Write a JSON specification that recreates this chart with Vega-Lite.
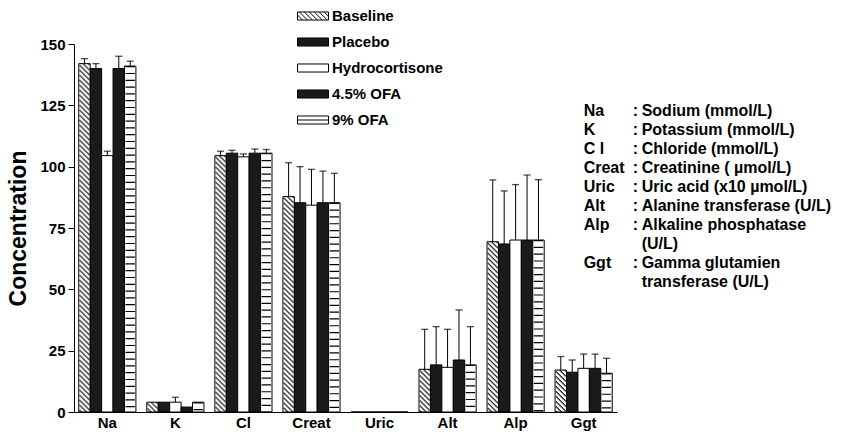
{
  "$schema": "https://vega.github.io/schema/vega-lite/v6.json",
  "width": 543,
  "height": 368,
  "autosize": {"type": "none"},
  "padding": {"left": 74, "top": 44, "right": 224, "bottom": 23},
  "background": "white",
  "config": {"view": {"stroke": null}, "font": "Liberation Sans"},
  "datasets": {
    "bars": [
      {"category": "Na", "series": "Baseline", "value": 142, "upper": 144},
      {"category": "Na", "series": "Placebo", "value": 140, "upper": 142},
      {"category": "Na", "series": "Hydrocortisone", "value": 104.5, "upper": 106.3},
      {"category": "Na", "series": "4.5% OFA", "value": 140, "upper": 145},
      {"category": "Na", "series": "9% OFA", "value": 141, "upper": 143},
      {"category": "K", "series": "Baseline", "value": 4, "upper": 4},
      {"category": "K", "series": "Placebo", "value": 4, "upper": 4},
      {"category": "K", "series": "Hydrocortisone", "value": 4, "upper": 6},
      {"category": "K", "series": "4.5% OFA", "value": 2, "upper": 2},
      {"category": "K", "series": "9% OFA", "value": 4, "upper": 4},
      {"category": "Cl", "series": "Baseline", "value": 104.5, "upper": 106.3},
      {"category": "Cl", "series": "Placebo", "value": 105.5, "upper": 106.7},
      {"category": "Cl", "series": "Hydrocortisone", "value": 104, "upper": 105.2},
      {"category": "Cl", "series": "4.5% OFA", "value": 105.5, "upper": 107.2},
      {"category": "Cl", "series": "9% OFA", "value": 105.5, "upper": 107},
      {"category": "Creat", "series": "Baseline", "value": 87.8, "upper": 101.6},
      {"category": "Creat", "series": "Placebo", "value": 85.3, "upper": 100},
      {"category": "Creat", "series": "Hydrocortisone", "value": 84.3, "upper": 98.9},
      {"category": "Creat", "series": "4.5% OFA", "value": 85.3, "upper": 98.2},
      {"category": "Creat", "series": "9% OFA", "value": 85.3, "upper": 97.3},
      {"category": "Uric", "series": "Baseline", "value": 0, "upper": 0},
      {"category": "Uric", "series": "Placebo", "value": 0, "upper": 0},
      {"category": "Uric", "series": "Hydrocortisone", "value": 0, "upper": 0},
      {"category": "Uric", "series": "4.5% OFA", "value": 0, "upper": 0},
      {"category": "Uric", "series": "9% OFA", "value": 0, "upper": 0},
      {"category": "Alt", "series": "Baseline", "value": 17.4, "upper": 33.7},
      {"category": "Alt", "series": "Placebo", "value": 19.2, "upper": 34.8},
      {"category": "Alt", "series": "Hydrocortisone", "value": 18.2, "upper": 33.7},
      {"category": "Alt", "series": "4.5% OFA", "value": 21.2, "upper": 41.6},
      {"category": "Alt", "series": "9% OFA", "value": 19.2, "upper": 34.8},
      {"category": "Alp", "series": "Baseline", "value": 69.4, "upper": 94.6},
      {"category": "Alp", "series": "Placebo", "value": 68.5, "upper": 90.1},
      {"category": "Alp", "series": "Hydrocortisone", "value": 70.1, "upper": 92.7},
      {"category": "Alp", "series": "4.5% OFA", "value": 70.1, "upper": 96.6},
      {"category": "Alp", "series": "9% OFA", "value": 70.1, "upper": 94.7},
      {"category": "Ggt", "series": "Baseline", "value": 17.1, "upper": 22.6},
      {"category": "Ggt", "series": "Placebo", "value": 16.2, "upper": 21.2},
      {"category": "Ggt", "series": "Hydrocortisone", "value": 17.8, "upper": 23.6},
      {"category": "Ggt", "series": "4.5% OFA", "value": 17.8, "upper": 23.6},
      {"category": "Ggt", "series": "9% OFA", "value": 15.8, "upper": 21.9}
    ],
    "notes": [
      {"abbr": "Na", "desc": "Sodium (mmol/L)"},
      {"abbr": "K", "desc": "Potassium (mmol/L)"},
      {"abbr": "C l", "desc": "Chloride (mmol/L)"},
      {"abbr": "Creat", "desc": "Creatinine ( µmol/L)"},
      {"abbr": "Uric", "desc": "Uric acid (x10 µmol/L)"},
      {"abbr": "Alt", "desc": "Alanine transferase (U/L)"},
      {"abbr": "Alp", "desc": "Alkaline phosphatase"},
      {"abbr": "", "desc": "(U/L)"},
      {"abbr": "Ggt", "desc": "Gamma glutamien"},
      {"abbr": "", "desc": "transferase (U/L)"}
    ]
  },
  "layer": [
    {
      "data": {"name": "bars"},
      "encoding": {
        "x": {
          "field": "category", "type": "nominal", "sort": null, "title": null,
          "scale": {"domain": ["Na", "K", "Cl", "Creat", "Uric", "Alt", "Alp", "Ggt"], "paddingInner": 0.16, "paddingOuter": 0.07},
          "axis": {"labelAngle": 0, "ticks": false, "labelFontSize": 15, "labelFontWeight": "bold", "labelColor": "black", "domainColor": "black", "labelPadding": 3, "labelFont": "Liberation Sans"}
        },
        "y": {
          "field": "value", "type": "quantitative", "stack": null, "title": "Concentration",
          "scale": {"domain": [0, 150], "nice": false},
          "axis": {"values": [0, 25, 50, 75, 100, 125, 150], "grid": false, "labelFontSize": 15, "labelFontWeight": "bold", "labelColor": "black", "labelFont": "Liberation Sans", "tickColor": "black", "domainColor": "black", "tickSize": 6, "labelPadding": 3, "titleFontSize": 23, "titleFontWeight": "bold", "titleColor": "black", "titleFont": "Liberation Sans", "titlePadding": 9}
        }
      },
      "layer": [
        {
          "mark": {"type": "bar", "stroke": "black", "strokeWidth": 1},
          "encoding": {
            "xOffset": {
              "field": "series", "type": "nominal", "sort": null,
              "scale": {"domain": ["Baseline", "Placebo", "Hydrocortisone", "4.5% OFA", "9% OFA"], "paddingInner": 0, "paddingOuter": 0}
            },
            "fill": {
              "field": "series", "type": "nominal", "sort": null,
              "scale": {
                "domain": ["Baseline", "Placebo", "Hydrocortisone", "4.5% OFA", "9% OFA"],
                "range": ["#ffffff", "#1a1a1a", "#ffffff", "#1a1a1a", "#ffffff"]
              },
              "legend": {
                "orient": "none", "legendX": 223, "legendY": -44, "title": null, "padding": 0,
                "symbolSize": 961,
                "symbolStrokeColor": "black", "symbolStrokeWidth": 1, "symbolOpacity": 1,
                "labelFontSize": 15, "labelFontWeight": "bold", "labelColor": "black", "labelFont": "Liberation Sans",
                "rowPadding": 2, "labelOffset": 3,
                "encode": {"symbols": {"update": {"stroke": {"value": "black"}, "strokeWidth": {"value": 1}, "opacity": {"value": 1}}}}
              }
            }
          }
        },
        {
          "mark": {"type": "point", "opacity": 0, "filled": true, "size": 961},
          "encoding": {
            "xOffset": {"field": "series", "type": "nominal", "sort": null},
            "shape": {
              "field": "series", "type": "nominal", "sort": null,
              "scale": {
                "domain": ["Baseline", "Placebo", "Hydrocortisone", "4.5% OFA", "9% OFA"],
                "range": [
                  "M-1,-0.26H1V0.26H-1ZM-1,-0.06L-0.68,0.26M-0.88,-0.26L-0.36,0.26M-0.56,-0.26L-0.04,0.26M-0.24,-0.26L0.28,0.26M0.08,-0.26L0.6,0.26M0.4,-0.26L0.92,0.26M0.72,-0.26L1,0.02",
                  "M-1,-0.26H1V0.26H-1Z",
                  "M-1,-0.26H1V0.26H-1Z",
                  "M-1,-0.26H1V0.26H-1Z",
                  "M-1,-0.26H1V0.26H-1ZM-1,0H1"
                ]
              },
              "legend": {
                "orient": "none", "legendX": 223, "legendY": -44, "title": null, "padding": 0,
                "symbolSize": 961,
                "symbolStrokeColor": "black", "symbolStrokeWidth": 1, "symbolOpacity": 1,
                "labelFontSize": 15, "labelFontWeight": "bold", "labelColor": "black", "labelFont": "Liberation Sans",
                "rowPadding": 2, "labelOffset": 3
              }
            }
          }
        },
        {"transform": [{"filter": "datum.series === 'Baseline' && datum.value > 0"}], "mark": {"type": "rule", "color": "black", "strokeWidth": 1.1, "strokeDash": [1.5, 3.5], "strokeDashOffset": 9}, "encoding": {"x": {"field": "category", "type": "nominal", "sort": null, "bandPosition": 0.021}, "y2": {"datum": 0}}},
        {"transform": [{"filter": "datum.series === 'Baseline' && datum.value > 0"}], "mark": {"type": "rule", "color": "black", "strokeWidth": 1.1, "strokeDash": [1.5, 3.5], "strokeDashOffset": 8}, "encoding": {"x": {"field": "category", "type": "nominal", "sort": null, "bandPosition": 0.0385}, "y2": {"datum": 0}}},
        {"transform": [{"filter": "datum.series === 'Baseline' && datum.value > 0"}], "mark": {"type": "rule", "color": "black", "strokeWidth": 1.1, "strokeDash": [1.5, 3.5], "strokeDashOffset": 7}, "encoding": {"x": {"field": "category", "type": "nominal", "sort": null, "bandPosition": 0.056}, "y2": {"datum": 0}}},
        {"transform": [{"filter": "datum.series === 'Baseline' && datum.value > 0"}], "mark": {"type": "rule", "color": "black", "strokeWidth": 1.1, "strokeDash": [1.5, 3.5], "strokeDashOffset": 6}, "encoding": {"x": {"field": "category", "type": "nominal", "sort": null, "bandPosition": 0.0735}, "y2": {"datum": 0}}},
        {"transform": [{"filter": "datum.series === 'Baseline' && datum.value > 0"}], "mark": {"type": "rule", "color": "black", "strokeWidth": 1.1, "strokeDash": [1.5, 3.5], "strokeDashOffset": 5}, "encoding": {"x": {"field": "category", "type": "nominal", "sort": null, "bandPosition": 0.091}, "y2": {"datum": 0}}},
        {"transform": [{"filter": "datum.series === 'Baseline' && datum.value > 0"}], "mark": {"type": "rule", "color": "black", "strokeWidth": 1.1, "strokeDash": [1.5, 3.5], "strokeDashOffset": 4}, "encoding": {"x": {"field": "category", "type": "nominal", "sort": null, "bandPosition": 0.1085}, "y2": {"datum": 0}}},
        {"transform": [{"filter": "datum.series === 'Baseline' && datum.value > 0"}], "mark": {"type": "rule", "color": "black", "strokeWidth": 1.1, "strokeDash": [1.5, 3.5], "strokeDashOffset": 3}, "encoding": {"x": {"field": "category", "type": "nominal", "sort": null, "bandPosition": 0.126}, "y2": {"datum": 0}}},
        {"transform": [{"filter": "datum.series === 'Baseline' && datum.value > 0"}], "mark": {"type": "rule", "color": "black", "strokeWidth": 1.1, "strokeDash": [1.5, 3.5], "strokeDashOffset": 2}, "encoding": {"x": {"field": "category", "type": "nominal", "sort": null, "bandPosition": 0.1435}, "y2": {"datum": 0}}},
        {"transform": [{"filter": "datum.series === 'Baseline' && datum.value > 0"}], "mark": {"type": "rule", "color": "black", "strokeWidth": 1.1, "strokeDash": [1.5, 3.5], "strokeDashOffset": 1}, "encoding": {"x": {"field": "category", "type": "nominal", "sort": null, "bandPosition": 0.161}, "y2": {"datum": 0}}},
        {"transform": [{"filter": "datum.series === 'Baseline' && datum.value > 0"}], "mark": {"type": "rule", "color": "black", "strokeWidth": 1.1, "strokeDash": [1.5, 3.5], "strokeDashOffset": 0}, "encoding": {"x": {"field": "category", "type": "nominal", "sort": null, "bandPosition": 0.1785}, "y2": {"datum": 0}}},
        {
          "transform": [{"filter": "datum.series === '9% OFA' && datum.value > 0"}],
          "mark": {"type": "rule", "color": "black", "strokeWidth": 9.4, "strokeDash": [1.2, 5.6]},
          "encoding": {"x": {"field": "category", "type": "nominal", "sort": null, "bandPosition": 0.9}, "y2": {"datum": 0}}
        },
        {
          "transform": [{"filter": "datum.upper > datum.value"}],
          "mark": {"type": "rule", "color": "black", "strokeWidth": 1},
          "encoding": {
            "xOffset": {"field": "series", "type": "nominal", "sort": null},
            "y2": {"field": "upper"}
          }
        },
        {
          "transform": [{"filter": "datum.upper > datum.value"}],
          "mark": {"type": "tick", "color": "black", "thickness": 1.3, "size": 7, "orient": "horizontal"},
          "encoding": {
            "xOffset": {"field": "series", "type": "nominal", "sort": null},
            "y": {"field": "upper", "type": "quantitative", "stack": null, "title": "Concentration"}
          }
        }
      ]
    },
    {
      "data": {"name": "notes"},
      "encoding": {
        "y": {
          "field": "desc", "type": "nominal", "sort": null, "axis": null,
          "scale": {
            "type": "band", "paddingInner": 0, "paddingOuter": 0.15, "align": 0,
            "domain": ["top1", "top2", "top3", "Sodium (mmol/L)", "Potassium (mmol/L)", "Chloride (mmol/L)", "Creatinine ( µmol/L)", "Uric acid (x10 µmol/L)", "Alanine transferase (U/L)", "Alkaline phosphatase", "(U/L)", "Gamma glutamien", "transferase (U/L)", "end1", "end2", "end3", "end4", "end5", "end6"]
          }
        },
        "x": {"datum": "Ggt", "type": "nominal", "title": null}
      },
      "layer": [
        {
          "mark": {"type": "text", "align": "left", "dx": 0, "fontSize": 16, "fontWeight": "bold", "font": "Liberation Sans", "color": "black"},
          "encoding": {"text": {"field": "abbr"}}
        },
        {
          "transform": [{"filter": "datum.abbr !== ''"}],
          "mark": {"type": "text", "align": "left", "dx": 49, "fontSize": 16, "fontWeight": "bold", "font": "Liberation Sans", "color": "black"},
          "encoding": {"text": {"value": ":"}}
        },
        {
          "mark": {"type": "text", "align": "left", "dx": 58, "fontSize": 16, "fontWeight": "bold", "font": "Liberation Sans", "color": "black"},
          "encoding": {"text": {"field": "desc"}}
        }
      ]
    }
  ],
  "resolve": {"scale": {"y": "independent"}, "axis": {"y": "independent"}}
}
